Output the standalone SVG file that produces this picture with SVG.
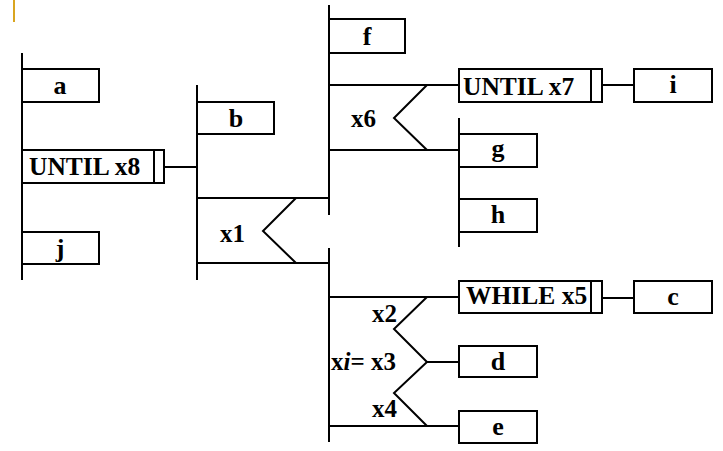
<svg xmlns="http://www.w3.org/2000/svg" width="723" height="451" viewBox="0 0 723 451">
<style>
.box{fill:#fff;stroke:#000;stroke-width:2}
.ln{fill:none;stroke:#000;stroke-width:2}
.t{font-family:"Liberation Serif","Times New Roman",serif;font-weight:bold;font-size:25px;fill:#000}
.c{text-anchor:middle;font-size:26px}
.k{font-size:25.5px}
</style>
<rect width="723" height="451" fill="#fff"/>
<line x1="14" y1="0" x2="14" y2="22" stroke="#d9a520" stroke-width="2"/>
<g id="connectors" class="ln">
<line x1="22" y1="53" x2="22" y2="280"/>
<line x1="164" y1="167" x2="197" y2="167"/>
<line x1="197" y1="85" x2="197" y2="280"/>
<line x1="197" y1="198" x2="329" y2="198"/>
<line x1="197" y1="263" x2="329" y2="263"/>
<polyline points="296,198 263,231 296,263"/>
<line x1="329" y1="5" x2="329" y2="215"/>
<line x1="329" y1="248" x2="329" y2="442"/>
<line x1="329" y1="85" x2="459" y2="85"/>
<line x1="329" y1="150" x2="459" y2="150"/>
<polyline points="427,85 394,118 427,150"/>
<line x1="602" y1="85" x2="634" y2="85"/>
<line x1="459" y1="118" x2="459" y2="247"/>
<line x1="329" y1="297" x2="459" y2="297"/>
<line x1="329" y1="426" x2="459" y2="426"/>
<polyline points="427,297 394,329 427,362 394,393 427,426"/>
<line x1="427" y1="362" x2="459" y2="362"/>
<line x1="602" y1="298" x2="634" y2="298"/>
</g>
<g id="node-a"><rect class="box" x="22" y="69" width="77" height="33"/><text class="t c" x="60" y="94">a</text></g>
<g id="node-until-x8"><rect class="box" x="22" y="150" width="142" height="33"/><line class="ln" x1="154" y1="150" x2="154" y2="183"/><text class="t k" x="29" y="175">UNTIL x8</text></g>
<g id="node-j"><rect class="box" x="22" y="232" width="77" height="32"/><text class="t c" x="60" y="257">j</text></g>
<g id="node-b"><rect class="box" x="197" y="102" width="77" height="32"/><text class="t c" x="236" y="127">b</text></g>
<g id="label-x1"><text class="t" x="220" y="242">x1</text></g>
<g id="node-f"><rect class="box" x="329" y="19" width="76" height="34"/><text class="t c" x="367" y="45">f</text></g>
<g id="label-x6"><text class="t" x="351" y="127">x6</text></g>
<g id="node-until-x7"><rect class="box" x="459" y="69" width="143" height="33"/><line class="ln" x1="591" y1="69" x2="591" y2="102"/><text class="t k" x="463" y="95">UNTIL x7</text></g>
<g id="node-i"><rect class="box" x="634" y="69" width="78" height="33"/><text class="t c" x="673" y="93">i</text></g>
<g id="node-g"><rect class="box" x="459" y="134" width="78" height="33"/><text class="t c" x="498" y="157">g</text></g>
<g id="node-h"><rect class="box" x="459" y="199" width="78" height="33"/><text class="t c" x="498" y="223">h</text></g>
<g id="node-while-x5"><rect class="box" x="459" y="281" width="143" height="32"/><line class="ln" x1="591" y1="281" x2="591" y2="313"/><text class="t k" x="466" y="304">WHILE x5</text></g>
<g id="node-c"><rect class="box" x="634" y="281" width="78" height="32"/><text class="t c" x="673" y="305">c</text></g>
<g id="label-x2"><text class="t" x="372" y="322">x2</text></g>
<g id="label-xi-x3"><text class="t" x="331" y="370">x<tspan font-style="italic">i</tspan>= x3</text></g>
<g id="label-x4"><text class="t" x="372" y="417">x4</text></g>
<g id="node-d"><rect class="box" x="459" y="346" width="78" height="31"/><text class="t c" x="498" y="370">d</text></g>
<g id="node-e"><rect class="box" x="459" y="411" width="78" height="32"/><text class="t c" x="498" y="435">e</text></g>
</svg>
